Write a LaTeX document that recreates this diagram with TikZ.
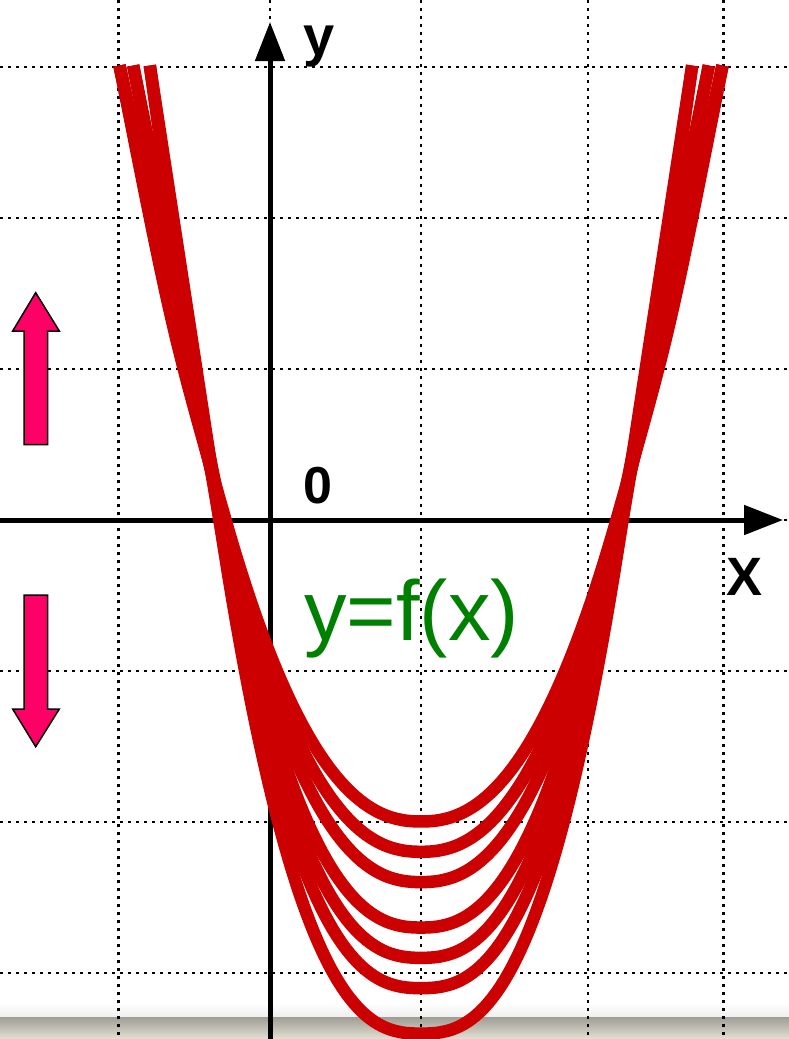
\documentclass[tikz,border=0pt]{standalone}
\usepackage{fontspec}
\newfontfamily\lsans{Liberation Sans}
\usetikzlibrary{arrows.meta}
\definecolor{curvered}{RGB}{204,0,0}
\definecolor{arrowpink}{RGB}{255,0,102}
\definecolor{labelgreen}{RGB}{0,128,0}
\definecolor{bandtop}{RGB}{160,158,150}
\definecolor{bandbot}{RGB}{228,224,212}
\definecolor{haze}{RGB}{238,238,238}
\begin{document}
\begin{tikzpicture}[x=1pt,y=-1pt,
  gridline/.style={line width=2.6pt, dash pattern=on 2.6pt off 5.4pt, black},
  axisline/.style={line width=5pt, black},
  axistip/.style={-{Triangle[length=39pt,width=29pt]}},
  curve/.style={line width=12.5pt, curvered, line join=round},
  blockarrow/.style={fill=arrowpink, draw=black, line width=1.5pt, line join=miter},
  axislabel/.style={font=\lsans\bfseries\fontsize{54}{60}\selectfont, inner sep=0pt, anchor=base},
]
\useasboundingbox (0,0) rectangle (789,1039);
\fill[white] (0,0) rectangle (789,1039);
% bottom shadow band
\shade[top color=white, bottom color=haze] (0,1003) rectangle (789,1017.5);
\shade[top color=bandtop, bottom color=bandbot] (0,1017.5) rectangle (789,1039);
% grid
\foreach \gx in {118.5,270,421,588,723.5} \draw[gridline] (\gx,0) -- (\gx,1039);
\foreach \gy in {67,218,369,520,671,822,973} \draw[gridline] (0,\gy) -- (789,\gy);
% axes
\coordinate (xstart) at (0,520);
\coordinate (xend) at (783,520);
\coordinate (ystart) at (270,1039);
\coordinate (yend) at (270,22);
\draw[axisline, axistip] (xstart) -- (xend);
\draw[axisline, axistip] (ystart) -- (yend);
% curves
\begin{scope}[shift={(421,520)}, x=151.5pt, y=151.5pt]
\foreach \mc/\mr/\mp/\mt in {-1.99/1.29/2.28/1.99, -2.19/1.30/2.32/1.99, -2.39/1.31/2.36/1.99,
  -2.69/1.31/2.42/1.90, -2.89/1.32/2.46/1.90, -3.09/1.33/2.51/1.79, -3.39/1.33/2.57/1.79} {
  \pgfmathsetmacro\mA{-\mc/(\mr^\mp)}
  \pgfmathsetmacro\ms{\mp*(-\mc)/\mr}
  \pgfmathsetmacro\qx{(\mr+\mt)/2}
  \pgfmathsetmacro\qy{\ms*(\mt-\mr)/2}
  \draw[curve] (-\mt,3) .. controls (-\qx,\qy) .. (-\mr,0)
     -- plot[domain=-\mr:\mr, samples=100, variable=\t] ({\t},{\mc+\mA*(abs(\t)+0.00001)^\mp})
     -- (\mr,0) .. controls (\qx,\qy) .. (\mt,3);
}
\end{scope}
% block arrows
\draw[blockarrow] (24,444.5) -- (24,331) -- (12.7,331) -- (35.7,292.7) -- (59.3,331) -- (47.7,331) -- (47.7,444.5) -- cycle;
\draw[blockarrow] (24,595) -- (47.7,595) -- (47.7,709) -- (59.3,709) -- (35.7,746.7) -- (12.7,709) -- (24,709) -- cycle;
% labels
\node[axislabel, font=\lsans\bfseries\fontsize{56}{60}\selectfont] (ylabel) at (319,55) {y};
\node[axislabel] (xlabel) at (744.5,595) {X};
\node[axislabel, font=\lsans\bfseries\fontsize{52}{60}\selectfont] (origin) at (318,503.5) {0};
\node[inner sep=0pt, anchor=base west, text=labelgreen, font=\lsans\fontsize{85}{90}\selectfont] (fxlabel) at (304,640) {y=f(x)};
\end{tikzpicture}
\end{document}
